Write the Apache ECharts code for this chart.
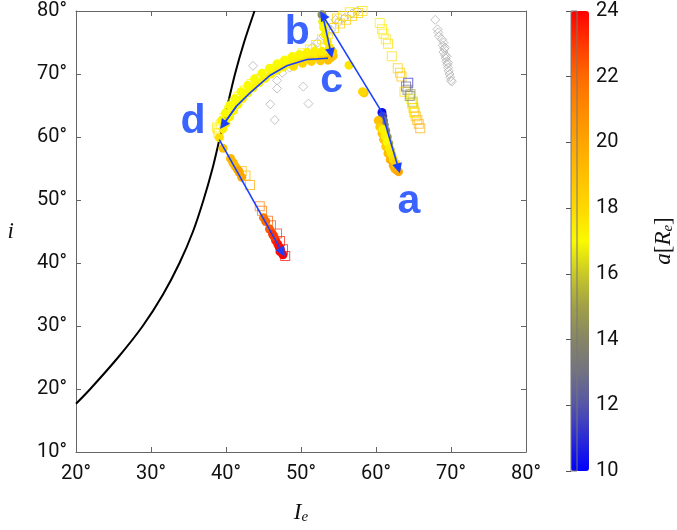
<!DOCTYPE html>
<html>
<head>
<meta charset="utf-8">
<script src="https://cdn.jsdelivr.net/npm/echarts@6/dist/echarts.min.js"></script>
<style>
html,body{margin:0;padding:0;background:#fff;}
#chart{width:677px;height:530px;}
</style>
</head>
<body>
<div id="chart"></div>
<script>
// ---- axis ticks ----
const xTickValues = [20, 30, 40, 50, 60, 70, 80];
const yTickValues = [10, 20, 30, 40, 50, 60, 70, 80];
const cbarTickValues = [10, 12, 14, 16, 18, 20, 22, 24];

// ---- colormap (a = 10 ... 24, one colour per unit) ----
const cmapColors = ['#0000ff', '#2b2bd5', '#5555a8', '#727282', '#858566', '#a0a048', '#c8c828',
  '#fafa00', '#ffd800', '#ffc000', '#ffa500', '#ff8a00', '#ff6a00', '#ff3800', '#ff0000'];

// ---- black boundary curve [I_e, i] ----
const curveData = [[20, 17.65], [21.9, 20], [25.6, 25], [28.9, 30], [31.6, 35], [33.8, 40], [35.6, 45],
  [37.0, 50], [38.2, 55], [39.2, 60], [40.2, 65], [41.2, 70], [42.4, 75], [43.8, 80]];

// ---- filled circles [I_e, i, a] ----
const circleData = [
  [60.8, 63.9, 10.3], [60.9, 63.3, 11.5], [61.0, 62.6, 12.8], [61.1, 61.9, 13.5], [61.3, 61.0, 14.0],
  [61.5, 60.0, 14.5], [61.7, 59.0, 15.0], [61.9, 58.0, 15.5], [62.1, 57.2, 16.0],
  [60.3, 62.6, 19.0], [60.5, 61.6, 18.5], [60.8, 60.6, 19.0], [61.0, 59.6, 18.8], [61.3, 58.5, 18.5],
  [61.6, 57.4, 19.2], [61.9, 56.4, 19.5], [62.3, 55.5, 19.8], [62.7, 54.8, 20.0], [63.0, 54.5, 20.0],
  [62.5, 55.0, 19.6],
  [60.9, 61.2, 17.2], [61.2, 60.2, 17.2], [61.5, 59.2, 17.0], [61.8, 58.2, 17.4], [62.0, 57.4, 17.5],
  [62.3, 56.5, 17.8], [62.6, 55.8, 18.2],
  [58.4, 67.0, 18.6], [58.2, 67.2, 18.0], [56.4, 71.4, 17.6],
  [52.8, 79.4, 14.3], [52.9, 78.3, 16.8], [53.0, 77.4, 17.0], [53.2, 76.3, 17.2], [53.5, 75.2, 17.4],
  [53.8, 74.2, 17.6], [54.1, 73.3, 18.0], [54.3, 72.9, 18.8], [54.0, 72.6, 19.0],
  [53.2, 72.7, 17.8], [52.4, 72.8, 17.6], [51.6, 72.7, 17.5], [50.8, 72.5, 17.5], [50.0, 72.3, 17.4],
  [49.2, 72.0, 17.4], [48.4, 71.6, 17.3], [47.6, 71.1, 17.3], [46.8, 70.6, 17.3], [46.0, 70.0, 17.2],
  [45.2, 69.3, 17.2], [44.4, 68.6, 17.2], [43.6, 67.8, 17.2], [42.9, 67.0, 17.1], [42.2, 66.1, 17.1],
  [41.6, 65.2, 17.1], [41.0, 64.2, 17.1], [40.5, 63.2, 17.1], [40.0, 62.2, 17.2], [39.6, 61.3, 17.3],
  [52.8, 73.6, 17.4], [51.8, 73.6, 17.3], [50.8, 73.4, 17.2], [49.8, 73.1, 17.1], [48.8, 72.7, 17.1],
  [47.8, 72.2, 17.0], [46.8, 71.6, 17.0], [45.8, 70.9, 17.0], [44.8, 70.1, 17.0], [43.8, 69.2, 17.0],
  [42.9, 68.2, 17.0], [42.0, 67.2, 17.0], [41.2, 66.1, 17.0], [40.5, 65.0, 17.0], [39.9, 63.8, 17.0],
  [39.4, 62.6, 17.1],
  [53.6, 72.2, 19.0], [52.6, 72.1, 18.6], [51.4, 72.0, 18.3], [50.2, 71.7, 18.0], [49.0, 71.2, 17.8],
  [54.2, 73.6, 18.5],
  [39.1, 59.9, 17.8], [39.6, 58.2, 18.9], [40.6, 56.6, 19.3], [40.9, 56.0, 19.5], [41.2, 55.4, 19.5],
  [41.5, 54.9, 19.6], [41.8, 54.3, 19.8], [42.1, 53.6, 19.8], [41.0, 55.8, 19.2], [41.7, 54.6, 20.0],
  [45.0, 47.2, 21.5], [45.3, 46.6, 22.0], [45.8, 45.4, 22.3], [46.2, 44.6, 23.0], [46.6, 43.6, 23.3],
  [46.9, 43.0, 23.6], [47.1, 42.5, 23.8], [47.3, 42.0, 24.0], [47.6, 41.3, 24.0], [47.2, 41.8, 23.8],
  [46.4, 44.2, 23.0]
];

// ---- open squares [I_e, i, a] ----
const squareData = [
  [39.0, 61.2, 17.4], [39.3, 62.0, 17.3], [39.8, 63.0, 17.2], [40.4, 64.2, 17.2], [41.0, 65.3, 17.1],
  [41.7, 66.4, 17.1], [42.5, 67.4, 17.1], [43.4, 68.4, 17.0], [44.3, 69.2, 17.0], [45.2, 70.0, 17.0],
  [46.2, 70.8, 17.0], [47.2, 71.5, 17.1], [48.2, 72.1, 17.1], [49.2, 72.7, 17.2], [50.2, 73.3, 17.3],
  [51.2, 73.9, 17.4],
  [52.0, 74.6, 17.5], [52.8, 75.5, 17.6], [53.6, 76.4, 17.8], [54.4, 77.3, 18.2], [55.2, 78.0, 18.4],
  [56.0, 78.6, 18.5], [56.8, 79.2, 18.6], [57.6, 79.7, 18.4], [58.2, 80.0, 17.8], [55.6, 79.2, 17.8],
  [56.5, 79.8, 17.6], [54.8, 78.8, 18.2],
  [60.5, 78.1, 17.4], [60.8, 77.1, 17.5], [61.0, 76.4, 17.6], [61.3, 75.5, 17.7], [61.6, 74.8, 17.8],
  [62.1, 72.8, 17.9], [62.9, 70.9, 18.5], [63.2, 70.2, 18.6], [63.4, 69.6, 18.8], [64.3, 68.6, 11.0],
  [64.0, 68.0, 12.5], [64.2, 67.5, 13.5], [63.8, 67.2, 18.0], [64.6, 66.8, 14.5], [64.7, 66.0, 16.8],
  [64.8, 65.3, 17.4], [65.0, 64.6, 18.2], [65.1, 64.0, 18.8], [65.3, 63.3, 19.0], [65.5, 62.7, 19.4],
  [65.7, 62.1, 19.6], [65.9, 61.4, 19.8], [65.2, 63.8, 17.3], [64.9, 65.6, 15.8], [64.5, 66.5, 14.2],
  [39.0, 60.6, 17.8], [38.8, 61.5, 17.5], [42.1, 54.6, 19.0], [42.6, 53.9, 19.4], [43.2, 52.4, 19.8],
  [44.5, 49.0, 21.5], [44.8, 48.3, 21.8], [45.6, 46.7, 22.2], [46.0, 46.0, 22.5], [46.8, 44.7, 23.0],
  [47.2, 43.5, 23.5], [47.6, 42.2, 23.7], [47.9, 41.1, 24.0]
];

// ---- grey diamonds [I_e, i] ----
const diamondData = [
  [67.9, 78.6], [68.2, 77.1], [68.3, 76.6], [68.4, 76.0], [68.8, 75.5], [69.0, 75.0], [68.9, 74.5],
  [69.1, 74.0], [69.0, 73.5], [69.2, 73.0], [69.3, 72.5], [69.4, 72.0], [69.5, 71.5], [69.6, 71.0],
  [69.7, 70.5], [69.8, 70.0], [69.9, 69.5], [70.0, 69.0], [70.1, 68.8], [69.2, 74.2], [69.4, 72.8],
  [69.6, 71.8],
  [43.6, 71.3], [44.1, 69.3], [45.9, 65.2], [46.5, 62.7], [50.3, 68.0], [51.0, 65.3], [46.8, 67.7],
  [46.8, 69.0], [47.5, 70.2], [48.5, 71.0], [49.5, 72.0], [50.5, 73.0], [51.5, 74.2], [52.2, 75.0],
  [53.0, 76.0], [54.0, 77.0], [55.0, 78.2], [55.8, 78.9], [56.8, 79.6], [57.5, 80.0], [54.6, 78.6],
  [53.5, 77.5]
];

// ---- blue arrows (paths in [I_e, i]) ----
const arrowStartToA = [[60.8, 63.9], [63.0, 55.0]];
const arrowStartToB = [[60.8, 63.9], [52.9, 79.3]];
const arrowBToC = [[52.9, 79.3], [54.0, 73.3]];
const arrowCToD = [[53.6, 72.5], [50.8, 72.3], [48.1, 71.3], [45.9, 69.8], [43.2, 67.0], [41.4, 64.9], [39.6, 61.9]];
const arrowDToEnd = [[39.1, 59.6], [47.5, 41.7]];

// ---- point labels ----
const labelNames = ['a', 'b', 'c', 'd'];
const labelI = [64.4, 49.5, 54.1, 35.6];
const labelIncl = [49.7, 76.6, 68.9, 62.5];

const tickFont = 'Roboto';
const serif = 'Liberation Serif';
const arrowColor = '#1a40ff';

const chart = echarts.init(document.getElementById('chart'), null, {renderer: 'canvas'});

const xBase = {
  min: 20, max: 80, interval: 10, type: 'value',
  axisLine: {show: true, lineStyle: {color: '#666', width: 1}},
  axisTick: {show: true, inside: true, length: 5, lineStyle: {color: '#666'}},
  splitLine: {show: false}
};
const yBase = {
  min: 10, max: 80, interval: 10, type: 'value',
  axisLine: {show: true, lineStyle: {color: '#666', width: 1}},
  axisTick: {show: true, inside: true, length: 5, lineStyle: {color: '#666'}},
  splitLine: {show: false}
};

const straightArrow = path => ({
  type: 'lines', coordinateSystem: 'cartesian2d', xAxisIndex: 0, yAxisIndex: 0, polyline: false,
  data: [{coords: path}], symbol: ['none', 'triangle'], symbolSize: 10,
  lineStyle: {color: arrowColor, width: 1.6, opacity: 1, curveness: 0}, itemStyle: {color: arrowColor},
  z: 5, silent: true
});

const option = {
  animation: false,
  backgroundColor: '#fff',
  grid: [
    {left: 76, top: 11, width: 450, height: 460},
    {left: 571, top: 11, width: 18, height: 460, show: true, z: 10,
      backgroundColor: 'transparent', borderColor: '#777', borderWidth: 1}
  ],
  xAxis: [
    Object.assign({}, xBase, {
      gridIndex: 0, position: 'bottom',
      axisLabel: {show: true, margin: 12, fontFamily: tickFont, fontSize: 20, color: '#111',
        formatter: v => xTickValues.includes(v) ? v + '°' : ''},
      name: '{it|I}{sub|e}', nameLocation: 'middle', nameGap: 49,
      nameTextStyle: {rich: {
        it: {fontFamily: serif, fontStyle: 'italic', fontSize: 23, color: '#111', lineHeight: 24, verticalAlign: 'top'},
        sub: {fontFamily: serif, fontStyle: 'italic', fontSize: 15, color: '#111', lineHeight: 15, verticalAlign: 'bottom'}
      }}
    }),
    Object.assign({}, xBase, {gridIndex: 0, position: 'top', axisLabel: {show: false}}),
    {gridIndex: 1, type: 'value', min: 0, max: 1, show: false}
  ],
  yAxis: [
    Object.assign({}, yBase, {
      gridIndex: 0, position: 'left',
      axisLabel: {show: true, margin: 9, fontFamily: tickFont, fontSize: 20, color: '#111',
        formatter: v => yTickValues.includes(v) ? v + '°' : ''},
      name: 'i', nameLocation: 'middle', nameGap: 62, nameRotate: 0,
      nameTextStyle: {fontFamily: serif, fontStyle: 'italic', fontSize: 23, color: '#111', padding: [12, 0, 0, 0]}
    }),
    Object.assign({}, yBase, {gridIndex: 0, position: 'right', axisLabel: {show: false}}),
    {
      gridIndex: 1, type: 'value', min: 10, max: 24, interval: 2, position: 'right',
      axisLine: {show: false},
      axisTick: {show: true, inside: true, length: 5, lineStyle: {color: '#555'}},
      splitLine: {show: false},
      axisLabel: {show: true, margin: 19, fontFamily: tickFont, fontSize: 20, color: '#111',
        formatter: v => cbarTickValues.includes(v) ? String(v) : ''},
      name: '{it|a}{up|[}{it|R}{sub|e}{up|]}', nameLocation: 'middle', nameGap: 75, nameRotate: 90,
      nameTextStyle: {rich: {
        it: {fontFamily: serif, fontStyle: 'italic', fontSize: 23, color: '#111', lineHeight: 24, verticalAlign: 'top'},
        up: {fontFamily: serif, fontSize: 23, color: '#111', lineHeight: 24, verticalAlign: 'top'},
        sub: {fontFamily: serif, fontStyle: 'italic', fontSize: 15, color: '#111', lineHeight: 15, verticalAlign: 'bottom'}
      }}
    }
  ],
  visualMap: {
    type: 'continuous', min: 10, max: 24, dimension: 2, seriesIndex: [2, 3],
    calculable: false, hoverLink: false,
    left: 571, top: 11, itemWidth: 18, itemHeight: 460, padding: 0,
    text: null, inRange: {color: cmapColors}
  },
  series: [
    {
      type: 'line', xAxisIndex: 0, yAxisIndex: 0, data: curveData, smooth: 0.3,
      showSymbol: false, symbol: 'none', lineStyle: {color: '#000', width: 2}, z: 1, silent: true
    },
    {
      type: 'scatter', xAxisIndex: 0, yAxisIndex: 0, data: diamondData, symbol: 'diamond', symbolSize: 9,
      itemStyle: {color: 'transparent', borderColor: '#b4b4b4', borderWidth: 1}, z: 2, silent: true
    },
    {
      type: 'scatter', xAxisIndex: 0, yAxisIndex: 0, data: squareData,
      symbol: 'path://M0 0H20V20H0ZM2 2V18H18V2Z', symbolSize: 10,
      itemStyle: {opacity: 0.7}, z: 3, silent: true
    },
    {
      type: 'scatter', xAxisIndex: 0, yAxisIndex: 0, data: circleData, symbol: 'circle', symbolSize: 9,
      itemStyle: {opacity: 1}, z: 4, silent: true
    },
    straightArrow(arrowStartToA),
    straightArrow(arrowStartToB),
    straightArrow(arrowBToC),
    {
      type: 'lines', coordinateSystem: 'cartesian2d', xAxisIndex: 0, yAxisIndex: 0, polyline: true,
      data: [{coords: arrowCToD}], symbol: 'none',
      lineStyle: {color: arrowColor, width: 1.6, opacity: 1}, z: 5, silent: true
    },
    straightArrow(arrowCToD.slice(-2)),
    straightArrow(arrowDToEnd),
    {
      type: 'scatter', xAxisIndex: 0, yAxisIndex: 0, symbolSize: 1, silent: true, z: 6,
      itemStyle: {color: 'transparent'},
      data: labelNames.map((n, k) => [labelI[k], labelIncl[k], n]),
      label: {show: true, position: 'inside', formatter: p => p.value[2],
        fontFamily: 'Liberation Sans', fontWeight: 'bold', fontSize: 41, color: '#0a3cff'}
    }
  ]
};
chart.setOption(option);
</script>
</body>
</html>
